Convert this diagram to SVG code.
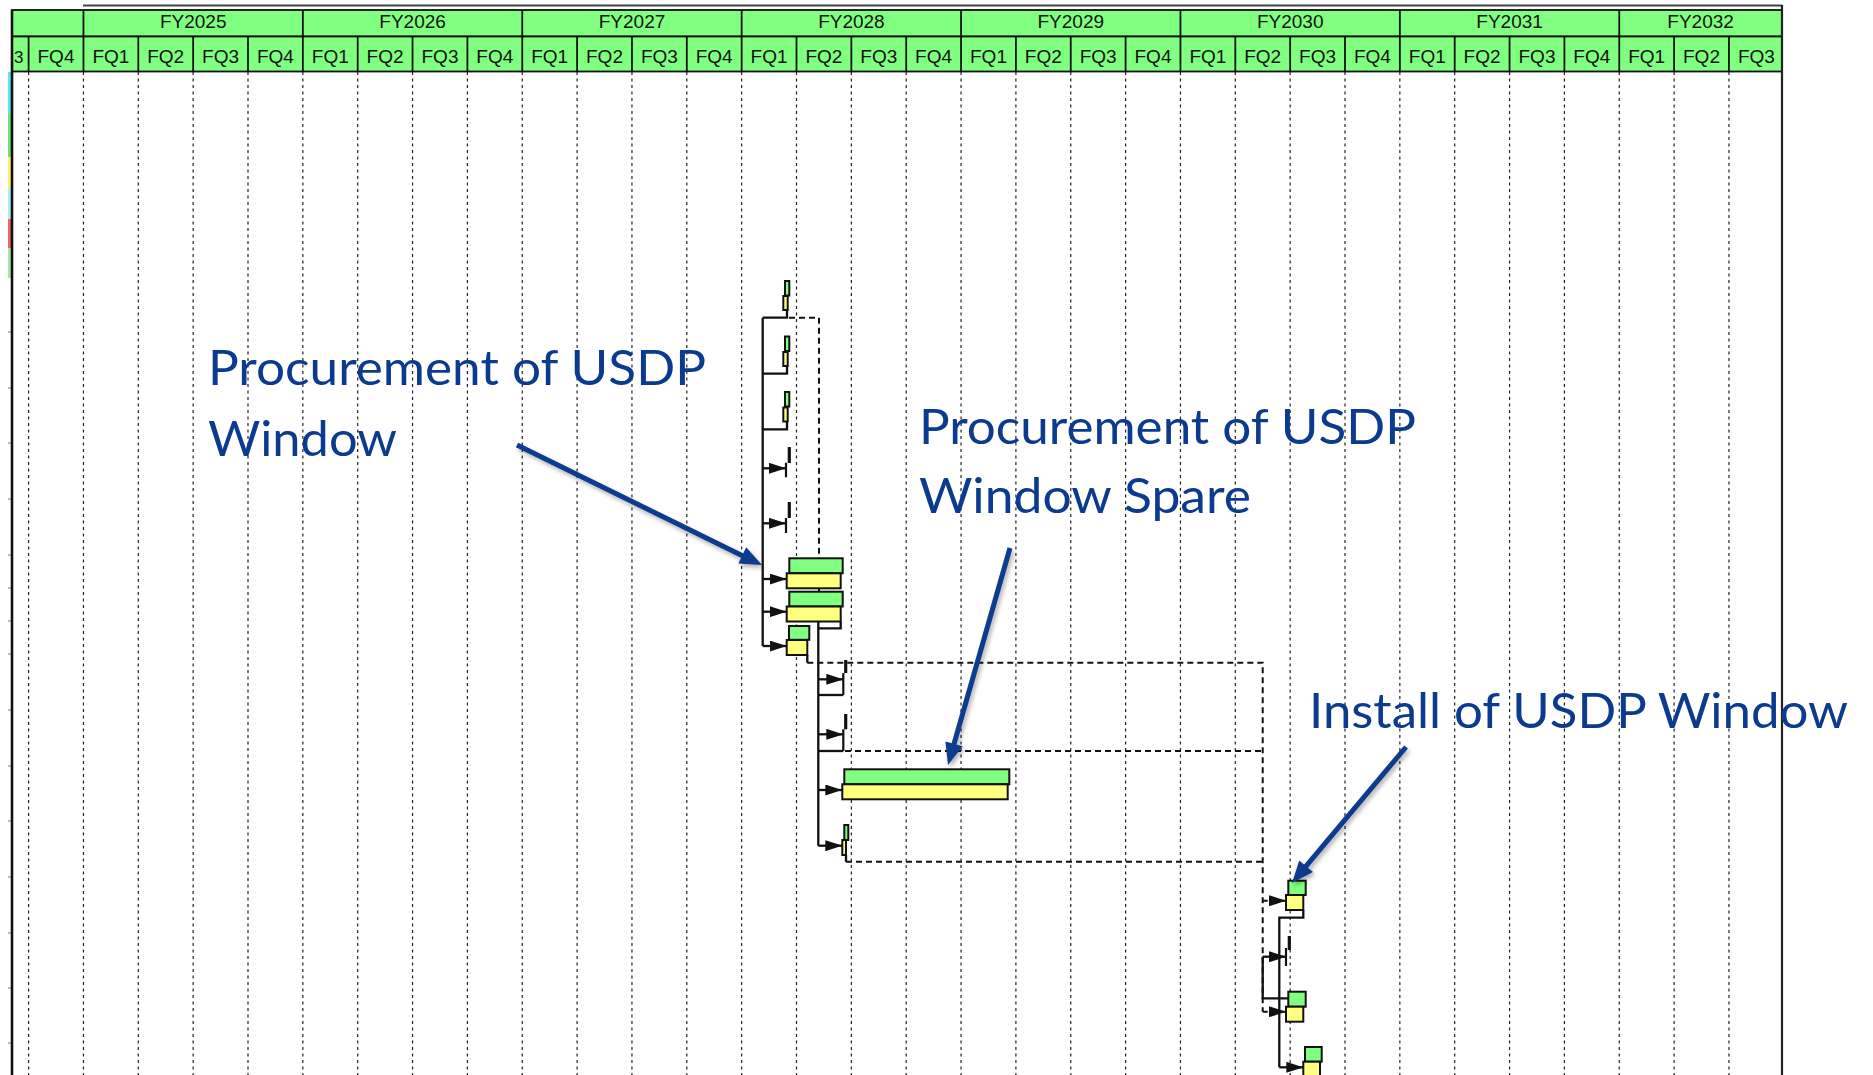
<svg xmlns="http://www.w3.org/2000/svg" width="1873" height="1075" viewBox="0 0 1873 1075">
<style>
.hdr{fill:#80FF80;stroke:#111;stroke-width:1.8}
.ht{font-family:"Liberation Sans",Arial,sans-serif;font-size:19px;fill:#111;text-anchor:middle}
.grid{stroke:#222;stroke-width:1.2;stroke-dasharray:3 3.5;fill:none}
.g{fill:#80FF80;stroke:#111;stroke-width:2}
.y{fill:#FFFF80;stroke:#111;stroke-width:2}
.ms{stroke:#111;fill:none}
.sl{stroke:#111;stroke-width:2.3;fill:none}
.dl{stroke:#111;stroke-width:2;fill:none;stroke-dasharray:6 4}
.ar{stroke:#111;stroke-width:2.3;fill:none;marker-end:url(#ah)}
.dar{stroke:#111;stroke-width:2;fill:none;stroke-dasharray:5 4;marker-end:url(#ah)}
.note{font-family:Lato,"Open Sans",sans-serif;font-size:49px;fill:#0B3A8E}
.na{stroke:#0B3A8E;stroke-width:5;fill:none}
.nh{fill:#0B3A8E}
.tick{stroke:#aaa;stroke-width:1.5}
</style>
<defs>
<marker id="ah" viewBox="0 0 17 11" refX="17" refY="5.5" markerUnits="userSpaceOnUse" markerWidth="17" markerHeight="11" orient="auto">
<path d="M0,0 L17,5.5 L0,11 z" fill="#111"/>
</marker>
<filter id="sh" x="-20%" y="-20%" width="140%" height="140%">
<feDropShadow dx="2" dy="3" stdDeviation="2" flood-color="#000" flood-opacity="0.3"/>
</filter>
</defs>
<rect x="0" y="0" width="1873" height="1075" fill="#fff"/>

<g id="gridlines">
<path class="grid" d="M28.6 72V1075M83.45 72V1075M138.3 72V1075M193.15 72V1075M248 72V1075M302.85 72V1075M357.7 72V1075M412.55 72V1075M467.4 72V1075M522.25 72V1075M577.1 72V1075M631.95 72V1075M686.8 72V1075M741.65 72V1075M796.5 72V1075M851.35 72V1075M906.2 72V1075M961.05 72V1075M1015.9 72V1075M1070.75 72V1075M1125.6 72V1075M1180.45 72V1075M1235.3 72V1075M1290.15 72V1075M1345 72V1075M1399.85 72V1075M1454.7 72V1075M1509.55 72V1075M1564.4 72V1075M1619.25 72V1075M1674.1 72V1075M1728.95 72V1075"/>
</g>

<g id="left-strips">
<rect x="8" y="72" width="3.5" height="41" fill="#55E8F5"/>
<rect x="8" y="113" width="3.5" height="44" fill="#70E070"/>
<rect x="8" y="157" width="3.5" height="31" fill="#FFEE70"/>
<rect x="8" y="188" width="3.5" height="31" fill="#A8F0F8"/>
<rect x="8" y="219" width="3.5" height="29" fill="#EE6666"/>
<rect x="8" y="248" width="3.5" height="30" fill="#A8E8A0"/>
<path class="tick" d="M8 332H11M8 388H11M8 443H11M8 499H11M8 555H11M8 588H11M8 621H11M8 654H11M8 710H11M8 766H11M8 821H11M8 877H11M8 933H11M8 988H11M8 1043H11"/>
</g>

<g id="header">
<line x1="83" y1="5.5" x2="1782" y2="5.5" stroke="#444" stroke-width="2"/>
<rect class="hdr" x="12" y="10" width="1770" height="26.5"/>
<rect class="hdr" x="12" y="36.5" width="1770" height="35"/>
<path stroke="#111" stroke-width="1.8" d="M83.45 10V71.5M302.85 10V71.5M522.25 10V71.5M741.65 10V71.5M961.05 10V71.5M1180.45 10V71.5M1399.85 10V71.5M1619.25 10V71.5M28.6 36.5V71.5M138.3 36.5V71.5M193.15 36.5V71.5M248 36.5V71.5M357.7 36.5V71.5M412.55 36.5V71.5M467.4 36.5V71.5M577.1 36.5V71.5M631.95 36.5V71.5M686.8 36.5V71.5M796.5 36.5V71.5M851.35 36.5V71.5M906.2 36.5V71.5M1015.9 36.5V71.5M1070.75 36.5V71.5M1125.6 36.5V71.5M1235.3 36.5V71.5M1290.15 36.5V71.5M1345 36.5V71.5M1454.7 36.5V71.5M1509.55 36.5V71.5M1564.4 36.5V71.5M1674.1 36.5V71.5M1728.95 36.5V71.5"/>
<g class="ht">
<text x="193.2" y="27.5">FY2025</text>
<text x="412.6" y="27.5">FY2026</text>
<text x="632" y="27.5">FY2027</text>
<text x="851.4" y="27.5">FY2028</text>
<text x="1070.8" y="27.5">FY2029</text>
<text x="1290.2" y="27.5">FY2030</text>
<text x="1509.6" y="27.5">FY2031</text>
<text x="1700.6" y="27.5">FY2032</text>
<text x="14" y="62.5" text-anchor="start" font-size="17">3</text>
<text x="56" y="62.5">FQ4</text>
<text x="110.9" y="62.5">FQ1</text><text x="165.7" y="62.5">FQ2</text><text x="220.6" y="62.5">FQ3</text><text x="275.4" y="62.5">FQ4</text>
<text x="330.3" y="62.5">FQ1</text><text x="385.1" y="62.5">FQ2</text><text x="440" y="62.5">FQ3</text><text x="494.8" y="62.5">FQ4</text>
<text x="549.7" y="62.5">FQ1</text><text x="604.5" y="62.5">FQ2</text><text x="659.4" y="62.5">FQ3</text><text x="714.2" y="62.5">FQ4</text>
<text x="769.1" y="62.5">FQ1</text><text x="823.9" y="62.5">FQ2</text><text x="878.8" y="62.5">FQ3</text><text x="933.6" y="62.5">FQ4</text>
<text x="988.5" y="62.5">FQ1</text><text x="1043.3" y="62.5">FQ2</text><text x="1098.2" y="62.5">FQ3</text><text x="1153" y="62.5">FQ4</text>
<text x="1207.9" y="62.5">FQ1</text><text x="1262.7" y="62.5">FQ2</text><text x="1317.6" y="62.5">FQ3</text><text x="1372.4" y="62.5">FQ4</text>
<text x="1427.3" y="62.5">FQ1</text><text x="1482.1" y="62.5">FQ2</text><text x="1537" y="62.5">FQ3</text><text x="1591.8" y="62.5">FQ4</text>
<text x="1646.7" y="62.5">FQ1</text><text x="1701.5" y="62.5">FQ2</text><text x="1756.4" y="62.5">FQ3</text>
</g>
</g>

<g id="borders">
<line x1="12" y1="10" x2="12" y2="1075" stroke="#111" stroke-width="2.6"/>
<line x1="1782" y1="5" x2="1782" y2="1075" stroke="#222" stroke-width="2.2"/>
</g>

<g id="connectors">
<path class="sl" d="M762.7 317.7V646"/>
<path class="sl" d="M787 310V317.7H762.7M787 366V373.7H762.7M787 421.5V429.3H762.7"/>
<path class="dl" d="M789 317.7H819V596"/>
<path class="ar" d="M762.7 468.3H786"/>
<path class="ar" d="M762.7 523.3H786"/>
<path class="ar" d="M762.7 579H786.7"/>
<path class="ar" d="M762.7 611.7H786.7"/>
<path class="ar" d="M762.7 646H786.7"/>
<path class="sl" d="M842.7 596H818.3V845.7M840.7 621.5V628.3H818.3"/>
<path class="sl" d="M807.3 655V662.7M846 855V861.7"/>
<path class="dl" d="M807.3 662.7H1262.7V1011.7M845 751H1262.7M846 861.7H1262.7"/>
<path class="ar" d="M818.3 679.3H843.3"/>
<path class="sl" d="M818.3 695H843.3"/>
<path class="ar" d="M818.3 734.3H843.3"/>
<path class="sl" d="M818.3 751H843.3"/>
<path class="ar" d="M818.3 790H842.3"/>
<path class="ar" d="M818.3 845.7H842.3"/>
<path class="dar" d="M1262.7 900.7H1286"/>
<path class="sl" d="M1303.3 910V917.7H1279.3V1067.3"/>
<path class="ar" d="M1279.3 1067.3H1303.3"/>
<path class="ar" d="M1262.7 956.7H1286"/>
<path class="sl" d="M1262.7 956.7V998.3H1288"/>
<path class="dar" d="M1262.7 1011.7H1286"/>
</g>

<g id="t1"><rect class="g" x="785" y="281" width="4.3" height="14.5"/><rect class="y" x="783.3" y="296" width="4.4" height="14"/></g>
<g id="t2"><rect class="g" x="785" y="336.5" width="4.3" height="14.5"/><rect class="y" x="783.3" y="352" width="4.4" height="14"/></g>
<g id="t3"><rect class="g" x="785" y="392" width="4.3" height="14.5"/><rect class="y" x="783.3" y="407.5" width="4.4" height="14"/></g>
<g id="t4"><path class="ms" stroke-width="3.2" d="M789.3 447V463"/><path class="ms" stroke-width="2.2" d="M786 462.7V477.3"/></g>
<g id="t5"><path class="ms" stroke-width="3.2" d="M789.3 502V518"/><path class="ms" stroke-width="2.2" d="M786 518V533"/></g>
<g id="t6"><rect class="g" x="789.3" y="558.3" width="53.4" height="15"/><rect class="y" x="786.7" y="573.3" width="54" height="15"/></g>
<g id="t7"><rect class="g" x="789.3" y="591.7" width="53.4" height="14.8"/><rect class="y" x="786.7" y="606.5" width="54" height="15"/></g>
<g id="t8"><rect class="g" x="789" y="626" width="20.3" height="13.8"/><rect class="y" x="786.7" y="640" width="20.6" height="15"/></g>
<g id="t9"><path class="ms" stroke-width="3.2" d="M845.7 660V673"/><path class="ms" stroke-width="2.2" d="M843.3 673V695"/></g>
<g id="t10"><path class="ms" stroke-width="3.2" d="M845.7 714V729.3"/><path class="ms" stroke-width="2.2" d="M843.3 729.3V751"/></g>
<g id="t11"><rect class="g" x="844.3" y="769.3" width="165" height="15"/><rect class="y" x="842.3" y="784.3" width="165.4" height="15"/></g>
<g id="t12"><rect class="g" x="844.3" y="825" width="4" height="15"/><rect class="y" x="842.3" y="840" width="3.7" height="15"/></g>
<g id="t13"><rect class="g" x="1288.3" y="880.7" width="17.4" height="14.3"/><rect class="y" x="1286" y="895" width="17.3" height="15"/></g>
<g id="t14"><path class="ms" stroke-width="3.2" d="M1289.3 936V950"/><path class="ms" stroke-width="2.2" d="M1286 948V966"/></g>
<g id="t15"><rect class="g" x="1288.3" y="991.7" width="17.4" height="15"/><rect class="y" x="1286" y="1006.7" width="17.3" height="15"/></g>
<g id="t16"><rect class="g" x="1305" y="1047" width="16.7" height="14.7"/><rect class="y" x="1303.3" y="1061.7" width="16.7" height="15"/></g>

<g id="note1">
<text class="note" x="208" y="385" textLength="498" lengthAdjust="spacingAndGlyphs">Procurement of USDP</text>
<text class="note" x="208" y="456" textLength="189" lengthAdjust="spacingAndGlyphs">Window</text>
<g filter="url(#sh)"><path class="na" d="M517 445L745 557"/><polygon class="nh" points="762,565 738.3,563.4 746.2,547.2"/></g>
</g>
<g id="note2">
<text class="note" x="919" y="444" textLength="497" lengthAdjust="spacingAndGlyphs">Procurement of USDP</text>
<text class="note" x="919" y="513" textLength="332" lengthAdjust="spacingAndGlyphs">Window Spare</text>
<g filter="url(#sh)"><path class="na" d="M1010 548L953.5 745.8"/><polygon class="nh" points="948,765 945.4,741.4 962.7,746.3"/></g>
</g>
<g id="note3">
<text class="note" x="1309" y="728" textLength="539" lengthAdjust="spacingAndGlyphs">Install of USDP Window</text>
<g filter="url(#sh)"><path class="na" d="M1406 747L1304.8 867.7"/><polygon class="nh" points="1292,883 1299.2,860.4 1313,871.9"/></g>
</g>
</svg>
